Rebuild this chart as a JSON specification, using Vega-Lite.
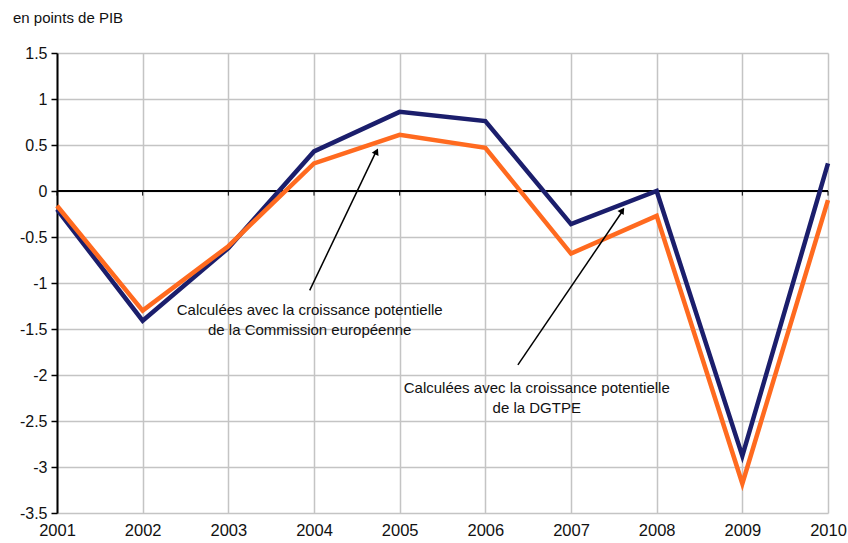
{
  "$schema": "https://vega.github.io/schema/vega-lite/v6.json",
  "autosize": "none",
  "width": 771,
  "height": 460,
  "padding": {"left": 57, "top": 53, "right": 20, "bottom": 30},
  "background": "white",
  "config": {
    "view": {"stroke": null},
    "font": "Liberation Sans",
    "axis": {"labelFont": "Liberation Sans", "labelColor": "#111", "gridColor": "#c4c4c4", "gridWidth": 1.5}
  },
  "title": {"text": "en points de PIB", "anchor": "start", "frame": "group", "dx": -44, "offset": 19, "fontSize": 15, "fontWeight": "normal", "font": "Liberation Sans", "color": "#111"},
  "datasets": {
    "series": [
      {"year": 2001, "value": -0.2, "serie": "Commission européenne"},
      {"year": 2002, "value": -1.41, "serie": "Commission européenne"},
      {"year": 2003, "value": -0.62, "serie": "Commission européenne"},
      {"year": 2004, "value": 0.43, "serie": "Commission européenne"},
      {"year": 2005, "value": 0.86, "serie": "Commission européenne"},
      {"year": 2006, "value": 0.76, "serie": "Commission européenne"},
      {"year": 2007, "value": -0.36, "serie": "Commission européenne"},
      {"year": 2008, "value": 0.0, "serie": "Commission européenne"},
      {"year": 2009, "value": -2.88, "serie": "Commission européenne"},
      {"year": 2010, "value": 0.3, "serie": "Commission européenne"},
      {"year": 2001, "value": -0.16, "serie": "DGTPE"},
      {"year": 2002, "value": -1.3, "serie": "DGTPE"},
      {"year": 2003, "value": -0.6, "serie": "DGTPE"},
      {"year": 2004, "value": 0.3, "serie": "DGTPE"},
      {"year": 2005, "value": 0.61, "serie": "DGTPE"},
      {"year": 2006, "value": 0.47, "serie": "DGTPE"},
      {"year": 2007, "value": -0.68, "serie": "DGTPE"},
      {"year": 2008, "value": -0.27, "serie": "DGTPE"},
      {"year": 2009, "value": -3.18, "serie": "DGTPE"},
      {"year": 2010, "value": -0.1, "serie": "DGTPE"}
    ]
  },
  "layer": [
    {
      "data": {"name": "series"},
      "mark": {"type": "rule", "color": "black", "strokeWidth": 1},
      "transform": [{"filter": "datum.serie === 'DGTPE'"}],
      "encoding": {
        "x": {"field": "year", "type": "quantitative", "scale": {"domain": [2001, 2010]},
          "axis": {"values": [2001, 2002, 2003, 2004, 2005, 2006, 2007, 2008, 2009, 2010], "format": "d", "title": null, "domain": false, "ticks": false, "labelFontSize": 16.5, "labelPadding": 9, "labelFlush": false, "labelOverlap": false, "grid": true}},
        "y": {"datum": 0, "type": "quantitative", "scale": {"domain": [-3.5, 1.5]},
          "axis": {"values": [-3.5, -3, -2.5, -2, -1.5, -1, -0.5, 0, 0.5, 1, 1.5], "labelExpr": "datum.value + ''", "title": null, "labelFontSize": 16, "domain": true, "domainColor": "black", "domainWidth": 2, "ticks": true, "tickColor": "black", "tickSize": 6, "tickWidth": 1.5, "labelPadding": 4, "grid": true}},
        "y2": {"datum": -0.05}
      }
    },
    {
      "data": {"values": [{"z": 0}]},
      "mark": {"type": "rule", "color": "black", "strokeWidth": 2},
      "encoding": {"y": {"field": "z", "type": "quantitative"}}
    },
    {
      "data": {"name": "series"},
      "mark": {"type": "line", "strokeWidth": 4.5, "strokeJoin": "miter", "strokeCap": "butt"},
      "encoding": {
        "x": {"field": "year", "type": "quantitative"},
        "y": {"field": "value", "type": "quantitative"},
        "color": {"field": "serie", "type": "nominal", "scale": {"domain": ["DGTPE", "Commission européenne"], "range": ["#ff6a1f", "#1b1e6c"]}, "legend": null},
        "order": {"field": "serie"}
      }
    },
    {
      "data": {"values": [
        {"x1": 2003.95, "y1": -1.08, "x2": 2004.72, "y2": 0.42},
        {"x1": 2006.38, "y1": -1.89, "x2": 2007.6, "y2": -0.22}
      ]},
      "mark": {"type": "rule", "color": "black", "strokeWidth": 1.5},
      "encoding": {
        "x": {"field": "x1", "type": "quantitative"},
        "y": {"field": "y1", "type": "quantitative"},
        "x2": {"field": "x2"},
        "y2": {"field": "y2"}
      }
    },
    {
      "data": {"values": [{"x": 2004.73, "y": 0.43}]},
      "mark": {"type": "point", "shape": "triangle-up", "filled": true, "color": "black", "size": 55, "angle": 25.6, "opacity": 1},
      "encoding": {"x": {"field": "x", "type": "quantitative"}, "y": {"field": "y", "type": "quantitative"}}
    },
    {
      "data": {"values": [{"x": 2007.6, "y": -0.21}]},
      "mark": {"type": "point", "shape": "triangle-up", "filled": true, "color": "black", "size": 55, "angle": 34.3, "opacity": 1},
      "encoding": {"x": {"field": "x", "type": "quantitative"}, "y": {"field": "y", "type": "quantitative"}}
    },
    {
      "data": {"values": [
        {"x": 2003.95, "y": -1.22, "label": "Calculées avec la croissance potentielle\nde la Commission européenne"},
        {"x": 2006.6, "y": -2.07, "label": "Calculées avec la croissance potentielle\nde la DGTPE"}
      ]},
      "mark": {"type": "text", "align": "center", "baseline": "top", "fontSize": 15, "lineHeight": 20, "lineBreak": "\n", "color": "#111", "font": "Liberation Sans"},
      "encoding": {
        "x": {"field": "x", "type": "quantitative"},
        "y": {"field": "y", "type": "quantitative"},
        "text": {"field": "label"}
      }
    }
  ]
}
